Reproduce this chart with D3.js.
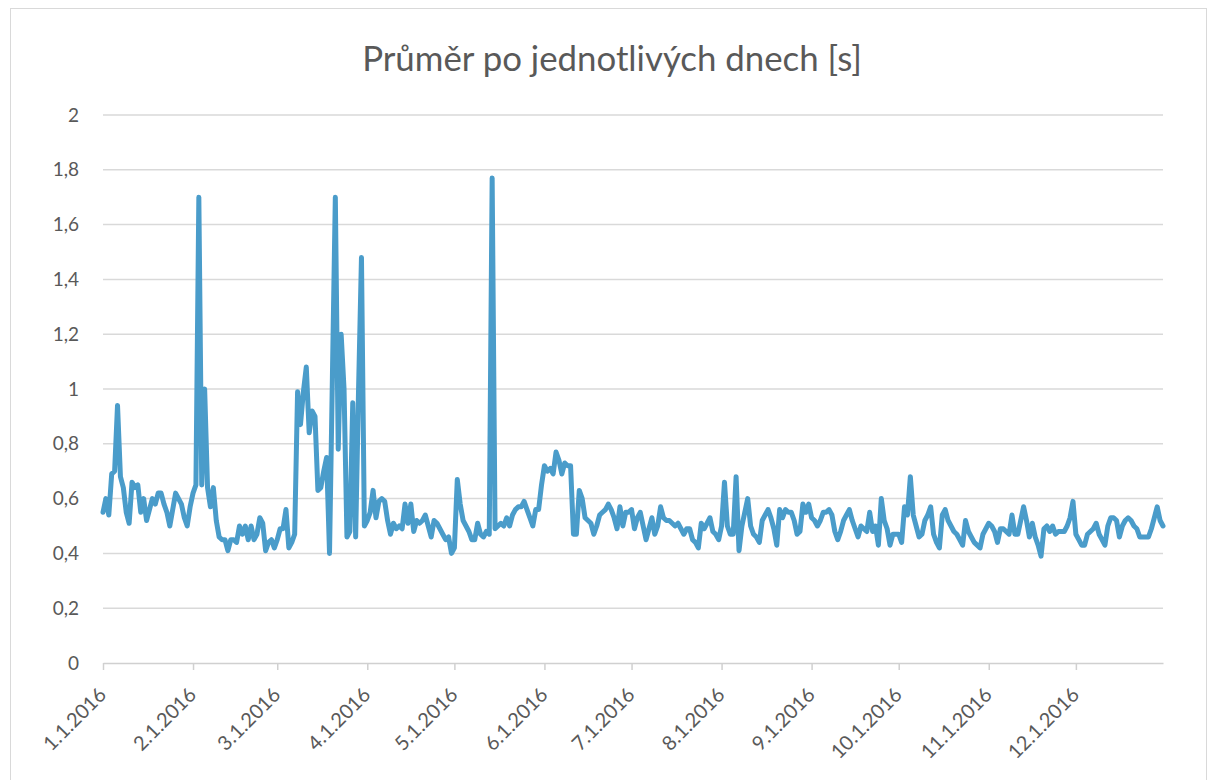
<!DOCTYPE html>
<html>
<head>
<meta charset="utf-8">
<script src="https://cdn.jsdelivr.net/npm/d3@7"></script>
<style>
  body { margin: 0; background: #fff; }
  svg text { font-family: Lato, "Open Sans", sans-serif; fill: #595959; }
</style>
</head>
<body>
<div id="chart"></div>
<script>
// daily averages [s], one array per month of 2016
var jan = [0.55,0.60,0.54,0.69,0.70,0.94,0.68,0.64,0.55,0.51,0.66,0.64,0.65,0.55,0.60,0.52,0.56,0.60,0.58,0.62,0.62,0.58,0.55,0.50,0.56,0.62,0.60,0.58,0.53,0.50,0.57];
var feb = [0.62,0.65,1.70,0.65,1.00,0.64,0.57,0.64,0.52,0.46,0.45,0.45,0.41,0.45,0.45,0.44,0.50,0.47,0.50,0.45,0.50,0.45,0.47,0.53,0.51,0.41,0.44,0.45,0.42];
var mar = [0.45,0.49,0.49,0.56,0.42,0.44,0.47,0.99,0.87,0.99,1.08,0.84,0.92,0.90,0.63,0.64,0.70,0.75,0.40,1.05,1.70,0.78,1.20,1.00,0.46,0.48,0.95,0.46,1.00,1.48,0.50];
var apr = [0.52,0.55,0.63,0.53,0.59,0.60,0.59,0.52,0.47,0.51,0.49,0.50,0.49,0.58,0.51,0.58,0.48,0.52,0.51,0.52,0.54,0.50,0.46,0.52,0.51,0.49,0.47,0.45,0.46,0.40];
var may = [0.42,0.67,0.58,0.52,0.50,0.48,0.45,0.45,0.51,0.47,0.46,0.48,0.47,1.77,0.49,0.50,0.51,0.50,0.53,0.50,0.54,0.56,0.57,0.57,0.59,0.56,0.53,0.50,0.56,0.56,0.65];
var jun = [0.72,0.70,0.71,0.69,0.77,0.74,0.69,0.73,0.72,0.72,0.47,0.47,0.63,0.60,0.53,0.52,0.51,0.47,0.50,0.54,0.55,0.56,0.58,0.56,0.53,0.49,0.57,0.50,0.55,0.55];
var jul = [0.56,0.49,0.53,0.55,0.50,0.45,0.49,0.53,0.47,0.50,0.57,0.53,0.52,0.52,0.51,0.50,0.51,0.49,0.47,0.49,0.49,0.45,0.44,0.42,0.51,0.49,0.51,0.53,0.48,0.47,0.45];
var aug = [0.50,0.66,0.50,0.47,0.47,0.68,0.41,0.50,0.55,0.60,0.50,0.47,0.46,0.44,0.52,0.54,0.56,0.53,0.49,0.43,0.56,0.53,0.56,0.55,0.55,0.52,0.47,0.48,0.58,0.55,0.58];
var sep = [0.53,0.52,0.50,0.52,0.55,0.55,0.56,0.54,0.48,0.45,0.48,0.52,0.54,0.56,0.52,0.49,0.46,0.50,0.49,0.48,0.55,0.48,0.50,0.43,0.60,0.52,0.49,0.43,0.47,0.47];
var oct = [0.47,0.44,0.57,0.54,0.68,0.54,0.50,0.46,0.47,0.52,0.54,0.57,0.47,0.44,0.42,0.54,0.56,0.52,0.50,0.48,0.47,0.45,0.43,0.52,0.48,0.46,0.44,0.43,0.42,0.47,0.49];
var nov = [0.51,0.50,0.48,0.44,0.49,0.49,0.48,0.47,0.54,0.47,0.47,0.52,0.57,0.52,0.46,0.51,0.46,0.43,0.39,0.49,0.50,0.48,0.50,0.47,0.48,0.48,0.48,0.50,0.53,0.59];
var dec = [0.47,0.45,0.43,0.43,0.47,0.48,0.49,0.51,0.47,0.45,0.43,0.50,0.53,0.53,0.52,0.46,0.50,0.52,0.53,0.52,0.50,0.49,0.46,0.46,0.46,0.46,0.49,0.53,0.57,0.52,0.50];

var months = [jan, feb, mar, apr, may, jun, jul, aug, sep, oct, nov, dec];
var yTicks = [0, 0.2, 0.4, 0.6, 0.8, 1, 1.2, 1.4, 1.6, 1.8, 2];
var title = "Průměr po jednotlivých dnech [s]";

// flatten into dated points
var data = [];
months.forEach(function (vals, m) {
  vals.forEach(function (v, d) { data.push({ date: new Date(2016, m, d + 1), value: v }); });
});

var width = 1215, height = 780
  , svg = d3.select("#chart").append("svg").attr("width", width).attr("height", height)
  , x = d3.scaleTime().domain([new Date(2016, 0, 1), new Date(2016, 11, 31)]).range([103, 1163])
  , y = d3.scaleLinear().domain([0, 2]).range([663, 115]);

// outer chart border
svg.append("rect").attr("x", 10.5).attr("y", 8.5).attr("width", 1196).attr("height", 780)
   .attr("fill", "none").attr("stroke", "#d9d9d9").attr("stroke-width", 1);

// title, fitted to the reference width
var t = svg.append("text").attr("x", 612).attr("y", 71).attr("text-anchor", "middle")
   .attr("font-size", 30).text(title);
var tw = t.node().getComputedTextLength();
t.attr("font-size", 30 * 500 / tw);

// gridlines
svg.append("g").selectAll("line").data(yTicks.slice(1)).join("line")
   .attr("x1", 103).attr("x2", 1163)
   .attr("y1", function (d) { return y(d); }).attr("y2", function (d) { return y(d); })
   .attr("stroke", "#d9d9d9").attr("stroke-width", 1.5);

// y axis labels
var fmt = function (d) { return d3.format(".1~f")(d).replace(".", ","); };
svg.append("g").selectAll("text").data(yTicks).join("text")
   .attr("x", 79).attr("y", function (d) { return y(d); }).attr("dy", "0.35em")
   .attr("text-anchor", "end").attr("font-size", 19).text(fmt);

// x axis
var xAxis = d3.axisBottom(x).ticks(d3.timeMonth.every(1))
  .tickFormat(d3.timeFormat("%-m.%-d.%Y")).tickSize(7).tickSizeOuter(0);
var gx = svg.append("g").attr("transform", "translate(0,663)").call(xAxis);
gx.select(".domain").attr("stroke", "#d0d0d0").attr("stroke-width", 1.5);
gx.selectAll(".tick line").attr("stroke", "#d0d0d0").attr("stroke-width", 1.5);
gx.selectAll(".tick text")
  .attr("font-family", "Lato, sans-serif").attr("font-size", 20).attr("fill", "#595959")
  .attr("text-anchor", "end").attr("dy", 0).attr("y", 0)
  .attr("transform", "translate(4,33) rotate(-45)");

// data line
var line = d3.line().x(function (d) { return x(d.date); }).y(function (d) { return y(d.value); });
svg.append("path").datum(data).attr("d", line)
   .attr("fill", "none").attr("stroke", "#4a9cca").attr("stroke-width", 5)
   .attr("stroke-linejoin", "round").attr("stroke-linecap", "round");
</script>
</body>
</html>
